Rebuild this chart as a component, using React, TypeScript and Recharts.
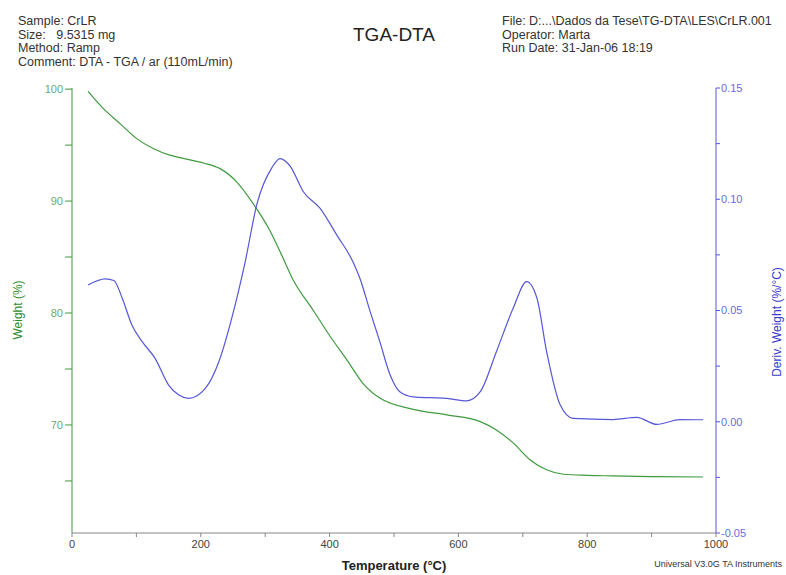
import { ComposedChart, Line, XAxis, YAxis } from 'recharts';

// TGA curve (weight %)
const tgaTemp = [25, 48, 75, 100, 126, 152, 178, 204, 230, 256, 281, 307, 323, 343, 375, 401, 427, 452, 478, 530, 582, 634, 659, 685, 711, 737, 763, 800, 840, 900, 980];
const tgaWeight = [99.8, 98.3, 96.9, 95.6, 94.7, 94.1, 93.75, 93.4, 92.9, 91.7, 89.8, 87.4, 85.5, 83.0, 80.2, 77.9, 75.8, 73.7, 72.4, 71.4, 70.9, 70.3, 69.55, 68.4, 66.9, 66.0, 65.6, 65.5, 65.45, 65.38, 65.35];

// derivative curve (%/°C)
const dtgTemp = [25, 52, 65, 78, 93, 109, 129, 150, 166, 181, 207, 228, 248, 269, 287, 310, 323, 339, 359, 385, 411, 436, 447, 463, 478, 494, 509, 530, 556, 582, 613, 634, 659, 685, 706, 722, 737, 758, 778, 840, 877, 908, 944, 980];
const dtgDeriv = [0.0615, 0.0642, 0.0635, 0.0555, 0.0435, 0.036, 0.0285, 0.0165, 0.012, 0.0105, 0.015, 0.027, 0.0465, 0.072, 0.0977, 0.114, 0.1183, 0.1148, 0.1035, 0.096, 0.084, 0.072, 0.0645, 0.0495, 0.036, 0.021, 0.0135, 0.0112, 0.0108, 0.0105, 0.0094, 0.0135, 0.0315, 0.051, 0.063, 0.0555, 0.0315, 0.0076, 0.0015, 0.001, 0.002, -0.0012, 0.001, 0.0009];

const xTicks = [0, 100, 200, 300, 400, 500, 600, 700, 800, 900, 1000];
const weightTicks = [65, 70, 75, 80, 85, 90, 95, 100];
const derivTicks = [-0.05, -0.025, 0, 0.025, 0.05, 0.075, 0.1, 0.125, 0.15];

const headerLeft = ['Sample: CrLR', 'Size:   9.5315 mg', 'Method: Ramp', 'Comment: DTA - TGA / ar (110mL/min)'];
const headerRight = ['File: D:...\\Dados da Tese\\TG-DTA\\LES\\CrLR.001', 'Operator: Marta', 'Run Date: 31-Jan-06 18:19'];

const tgaData = tgaTemp.map((t, i) => ({ t, w: tgaWeight[i] }));
const dtgData = dtgTemp.map((t, i) => ({ t, d: dtgDeriv[i] }));

const FONT = '"Liberation Sans", Arial, sans-serif';
const GREEN = '#3f9a3f';
const BLUE = '#5656d8';

export default function App() {
  return (
    <div style={{ position: 'absolute', left: 0, top: 0, width: 786, height: 575, background: '#fff', fontFamily: FONT }}>
      <div style={{ position: 'absolute', left: 18, top: 15, fontSize: 12.5, lineHeight: '13.7px', color: '#333', whiteSpace: 'pre' }}>
        {headerLeft.map((s) => <div key={s}>{s}</div>)}
      </div>
      <div style={{ position: 'absolute', left: 353, top: 24, fontSize: 19, lineHeight: '22px', color: '#222' }}>TGA-DTA</div>
      <div style={{ position: 'absolute', left: 502, top: 15, fontSize: 12.5, lineHeight: '13.7px', color: '#333', whiteSpace: 'pre' }}>
        {headerRight.map((s) => <div key={s}>{s}</div>)}
      </div>

      <ComposedChart width={786} height={575} margin={{ top: 88, right: 0, bottom: 0, left: 0 }}>
        <XAxis
          dataKey="t"
          type="number"
          domain={[0, 1000]}
          ticks={xTicks}
          tickFormatter={(v) => (v % 200 === 0 ? String(v) : '')}
          height={42}
          tickSize={4}
          tickMargin={3}
          stroke="#888"
          tick={{ fill: '#444', fontSize: 11, fontFamily: FONT }}
        />
        <XAxis xAxisId="frame" orientation="top" type="number" domain={[0, 1000]} height={0} tick={false} tickLine={false} stroke="#999" />
        <YAxis
          yAxisId="w"
          type="number"
          domain={[60.35, 100.1]}
          ticks={weightTicks}
          tickFormatter={(v) => (v % 10 === 0 ? String(v) : '')}
          width={72}
          tickSize={7}
          tickMargin={2}
          stroke={GREEN}
          tick={{ fill: '#6aaa6a', fontSize: 11, fontFamily: FONT }}
        />
        <YAxis
          yAxisId="d"
          orientation="right"
          type="number"
          domain={[-0.05, 0.15]}
          ticks={derivTicks}
          tickFormatter={(v) => (Math.round(v * 1000) % 50 === 0 ? v.toFixed(2) : '')}
          width={70}
          tickSize={4}
          tickMargin={1}
          stroke={BLUE}
          tick={{ fill: '#6a6ae0', fontSize: 11, fontFamily: FONT }}
        />
        <Line yAxisId="w" data={tgaData} dataKey="w" type="monotone" stroke={GREEN} strokeWidth={1.2} dot={false} isAnimationActive={false} />
        <Line yAxisId="d" data={dtgData} dataKey="d" type="monotone" stroke={BLUE} strokeWidth={1.2} dot={false} isAnimationActive={false} />
      </ComposedChart>

      <div style={{ position: 'absolute', left: 394, top: 558, transform: 'translateX(-50%)', fontSize: 13, fontWeight: 'bold', color: '#222', whiteSpace: 'nowrap' }}>Temperature (°C)</div>
      <div style={{ position: 'absolute', left: 18, top: 310, transform: 'translate(-50%, -50%) rotate(-90deg)', fontSize: 12, color: '#2e8b2e', whiteSpace: 'nowrap' }}>Weight (%)</div>
      <div style={{ position: 'absolute', left: 777, top: 322, transform: 'translate(-50%, -50%) rotate(-90deg)', fontSize: 12, color: '#3a3ad0', whiteSpace: 'nowrap' }}>Deriv. Weight (%/°C)</div>
      <div style={{ position: 'absolute', right: 4, top: 559, fontSize: 9, color: '#333', whiteSpace: 'nowrap' }}>Universal V3.0G TA Instruments</div>
    </div>
  );
}
